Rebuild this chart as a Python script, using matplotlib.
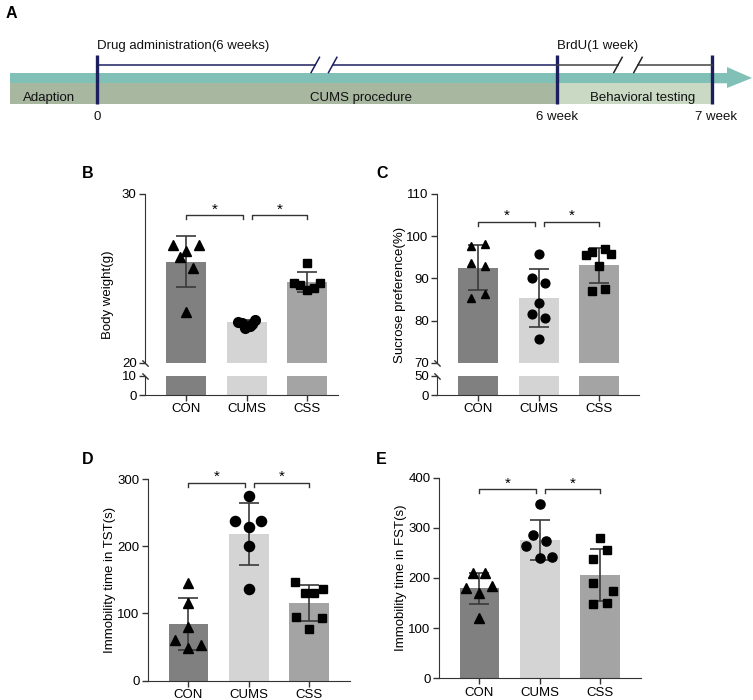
import matplotlib.pyplot as plt
from matplotlib.patches import Rectangle, Polygon

plt.rcParams['font.family'] = ['Liberation Sans', 'DejaVu Sans']

groups = ['CON', 'CUMS', 'CSS']
bar_colors = ['#808080', '#d4d4d4', '#a4a4a4']
markers = ['^', 'o', 's']

# B body weight
bw_mean = [26.0, 22.4, 24.8]
bw_sd = [1.5, 0.15, 0.6]
bw_pts = [[27.0, 27.0, 26.6, 26.3, 25.6, 23.0],
          [22.45, 22.35, 22.55, 22.2, 22.05, 22.3],
          [25.93, 24.75, 24.6, 24.3, 24.45, 24.75]]
bw_off = [[-0.215, 0.21, -0.01, -0.105, 0.11, -0.01],
          [-0.15, -0.07, 0.14, 0.05, -0.02, 0.09],
          [0.0, -0.22, -0.11, 0.0, 0.11, 0.22]]
bw_sig = 28.76

# C sucrose preference
sp_mean = [92.6, 85.4, 93.1]
sp_sd = [5.4, 6.8, 4.1]
sp_pts = [[97.7, 98.2, 93.7, 93.0, 85.3, 86.3],
          [95.8, 90.2, 89.0, 84.3, 81.6, 80.7, 75.7],
          [95.6, 96.3, 97.0, 95.8, 93.0, 87.1, 87.5]]
sp_off = [[-0.11, 0.11, -0.11, 0.11, -0.11, 0.11],
          [0.0, -0.11, 0.1, 0.0, -0.11, 0.1, 0.0],
          [-0.22, -0.11, 0.1, 0.2, 0.0, -0.11, 0.1]]
sp_sig = 103.4

# D tail suspension
tst_mean = [83.9, 218.2, 115.6]
tst_sd = [38.5, 46.5, 26.5]
tst_pts = [[145, 116, 80, 60.6, 48.7, 53.1],
           [274, 238, 238, 228.5, 199.7, 136],
           [147.5, 131, 130, 136, 95.4, 92.9, 77]]
tst_off = [[0.0, 0.0, 0.0, -0.23, 0.0, 0.21],
           [0.0, -0.22, 0.2, 0.0, 0.0, 0.0],
           [-0.24, 0.08, -0.07, 0.24, -0.21, 0.21, 0.0]]
tst_sig = 294.5

# E forced swim
fst_mean = [179.4, 275.7, 205.3]
fst_sd = [31.5, 39.0, 52.0]
fst_pts = [[209.3, 209.3, 179.4, 184, 170.8, 119.6],
           [347.5, 285.7, 273.8, 264.5, 240.5, 242.5],
           [280.4, 255.8, 238.5, 190.7, 174.8, 148.2, 149.5]]
fst_off = [[-0.1, 0.1, -0.22, 0.21, 0.0, 0.0],
           [0.0, -0.11, 0.1, -0.22, 0.0, 0.21],
           [0.0, 0.11, -0.11, -0.11, 0.21, -0.11, 0.11]]
fst_sig = 377.5

# A timeline
phase_labels = ['Adaption', 'CUMS procedure', 'Behavioral testing']
week_labels = ['0', '6 week', '7 week']
top_labels = ['Drug administration(6 weeks)', 'BrdU(1 week)']

W, H = 753, 700
fig = plt.figure(figsize=(W / 100, H / 100), dpi=100)


def px(l, t, r, b):
    return [l / W, 1 - b / H, (r - l) / W, (b - t) / H]


#%% panel A
axA = fig.add_axes([0, 0, 1, 1], zorder=-1)
axA.set_xlim(0, W)
axA.set_ylim(H, 0)
axA.axis('off')
teal = '#80c0b6'
navy = '#1b1f5e'
axA.add_patch(Polygon([(10, 73), (727, 73), (727, 67), (752, 78), (727, 88),
                       (727, 83.3), (10, 83.3)], closed=True, fc=teal, ec='none'))
axA.add_patch(Rectangle((10, 83.3), 547, 20.5, fc='#a8b8a0', ec='none'))
axA.add_patch(Rectangle((557, 83.3), 155, 20.5, fc='#cad9c3', ec='none'))
for xv in [97, 557, 712]:
    axA.plot([xv, xv], [55, 104], color=navy, lw=2.4, solid_capstyle='butt')
axA.plot([97, 315.3], [64.5, 64.5], color=navy, lw=1.1)
axA.plot([332.7, 557], [64.5, 64.5], color=navy, lw=1.1)
axA.plot([557, 618], [64.5, 64.5], color='#444444', lw=1.1)
axA.plot([638, 712], [64.5, 64.5], color='#444444', lw=1.1)
for cx, c in [(315.3, navy), (332.7, navy), (618, '#222222'), (638, '#222222')]:
    axA.plot([cx - 4.2, cx + 4.2], [72.5, 57.3], color=c, lw=1.1)
tk = dict(fontsize=9.5, color='#111111')
axA.text(97, 49.5, top_labels[0], ha='left', va='baseline', **tk)
axA.text(557, 49.5, top_labels[1], ha='left', va='baseline', **tk)
axA.text(23, 100.5, phase_labels[0], ha='left', va='baseline', **tk)
axA.text(361, 100.5, phase_labels[1], ha='center', va='baseline', **tk)
axA.text(643, 100.5, phase_labels[2], ha='center', va='baseline', **tk)
for xv, lab in zip([97, 557, 716], week_labels):
    axA.text(xv, 120.5, lab, ha='center', va='baseline', **tk)
for (xv, yv), lab in zip([(6, 18), (82, 178), (376, 178), (82, 463.5), (376, 463.5)],
                         ['A', 'B', 'C', 'D', 'E']):
    axA.text(xv, yv, lab, ha='left', va='baseline', fontsize=11.5, fontweight='bold')

spc = '#333333'


def style(ax, bottom=True):
    for s in ['top', 'right']:
        ax.spines[s].set_visible(False)
    ax.spines['left'].set_color(spc)
    ax.spines['bottom'].set_color(spc)
    ax.spines['bottom'].set_visible(bottom)
    ax.tick_params(direction='out', length=4, width=1, color=spc,
                   labelsize=9.5, pad=2)
    if not bottom:
        ax.tick_params(axis='x', bottom=False, labelbottom=False)


def draw(ax, means, sds, pts, offs, ms, bars_only=False):
    ax.bar(range(3), means, width=0.66, color=bar_colors, zorder=1)
    if bars_only:
        return
    for i in range(3):
        ax.errorbar(i, means[i], yerr=sds[i], color='#3a3a3a', lw=1.2,
                    capsize=7.5, capthick=1.2, zorder=2)
        s = ms * (0.85 if markers[i] == 's' else 1.0)
        ax.plot([i + o for o in offs[i]], pts[i], ls='none', marker=markers[i],
                ms=s, color='black', zorder=3)


def sig(ax, ylev):
    y0, y1 = ax.get_ylim()
    hpx = ax.get_position().height * H
    d = (y1 - y0) * 4 / hpx
    for a, b in [(0, 0.94), (1.09, 2.0)]:
        ax.plot([a, a, b, b], [ylev - d, ylev, ylev, ylev - d], color=spc,
                lw=1, clip_on=False)
        ax.annotate('*', xy=((a + b) / 2, ylev), xytext=(0, 1.2),
                    textcoords='offset points', ha='center', va='baseline',
                    fontsize=11, annotation_clip=False)


def broken(l, r, xl, up_lim, up_ticks, lo_lim, lo_ticks, means, sds, pts, offs,
           ms, ylev, ylabel, labx):
    axu = fig.add_axes(px(l, 194, r, 363))
    axl = fig.add_axes(px(l, 376, r, 395))
    draw(axu, means, sds, pts, offs, ms)
    draw(axl, means, sds, pts, offs, ms, bars_only=True)
    for ax in (axu, axl):
        ax.set_xlim(*xl)
    axu.set_ylim(*up_lim)
    axu.set_yticks(up_ticks)
    axl.set_ylim(*lo_lim)
    axl.set_yticks(lo_ticks)
    axl.set_xticks(range(3))
    axl.set_xticklabels(groups)
    style(axu, bottom=False)
    style(axl)
    brk = [(-1, 1), (1, -1)]
    axu.plot([0], [0], transform=axu.transAxes, marker=brk, ms=4.5, mew=1,
             color=spc, clip_on=False)
    axl.plot([0], [1], transform=axl.transAxes, marker=brk, ms=4.5, mew=1,
             color=spc, clip_on=False)
    sig(axu, ylev)
    fig.text(labx / W, 1 - 295 / H, ylabel, rotation=90, ha='center',
             va='center', fontsize=9.5)


broken(145, 338, (-0.68, 2.51), (20, 30), [20, 30], (0, 10), [0, 10],
       bw_mean, bw_sd, bw_pts, bw_off, 7.0, bw_sig, 'Body weight(g)', 108)
broken(437, 639, (-0.68, 2.66), (70, 110), [70, 80, 90, 100, 110], (0, 50), [0, 50],
       sp_mean, sp_sd, sp_pts, sp_off, 6.3, sp_sig, 'Sucrose preference(%)', 400)


def simple(box, ylim, ticks, means, sds, pts, offs, ms, ylev, ylabel, labx):
    ax = fig.add_axes(px(*box))
    draw(ax, means, sds, pts, offs, ms)
    ax.set_xlim(-0.67, 2.68)
    ax.set_ylim(*ylim)
    ax.set_yticks(ticks)
    ax.set_xticks(range(3))
    ax.set_xticklabels(groups)
    style(ax)
    sig(ax, ylev)
    cy = (box[1] + box[3]) / 2
    fig.text(labx / W, 1 - cy / H, ylabel, rotation=90, ha='center',
             va='center', fontsize=9.5)


simple((148, 479, 350, 680.7), (0, 300), [0, 100, 200, 300], tst_mean, tst_sd,
       tst_pts, tst_off, 7.3, tst_sig, 'Immobility time in TST(s)', 110)
simple((439, 477.7, 641, 678.3), (0, 400), [0, 100, 200, 300, 400], fst_mean,
       fst_sd, fst_pts, fst_off, 6.6, fst_sig, 'Immobility time in FST(s)', 401)

fig.savefig('out.png', dpi=100)
